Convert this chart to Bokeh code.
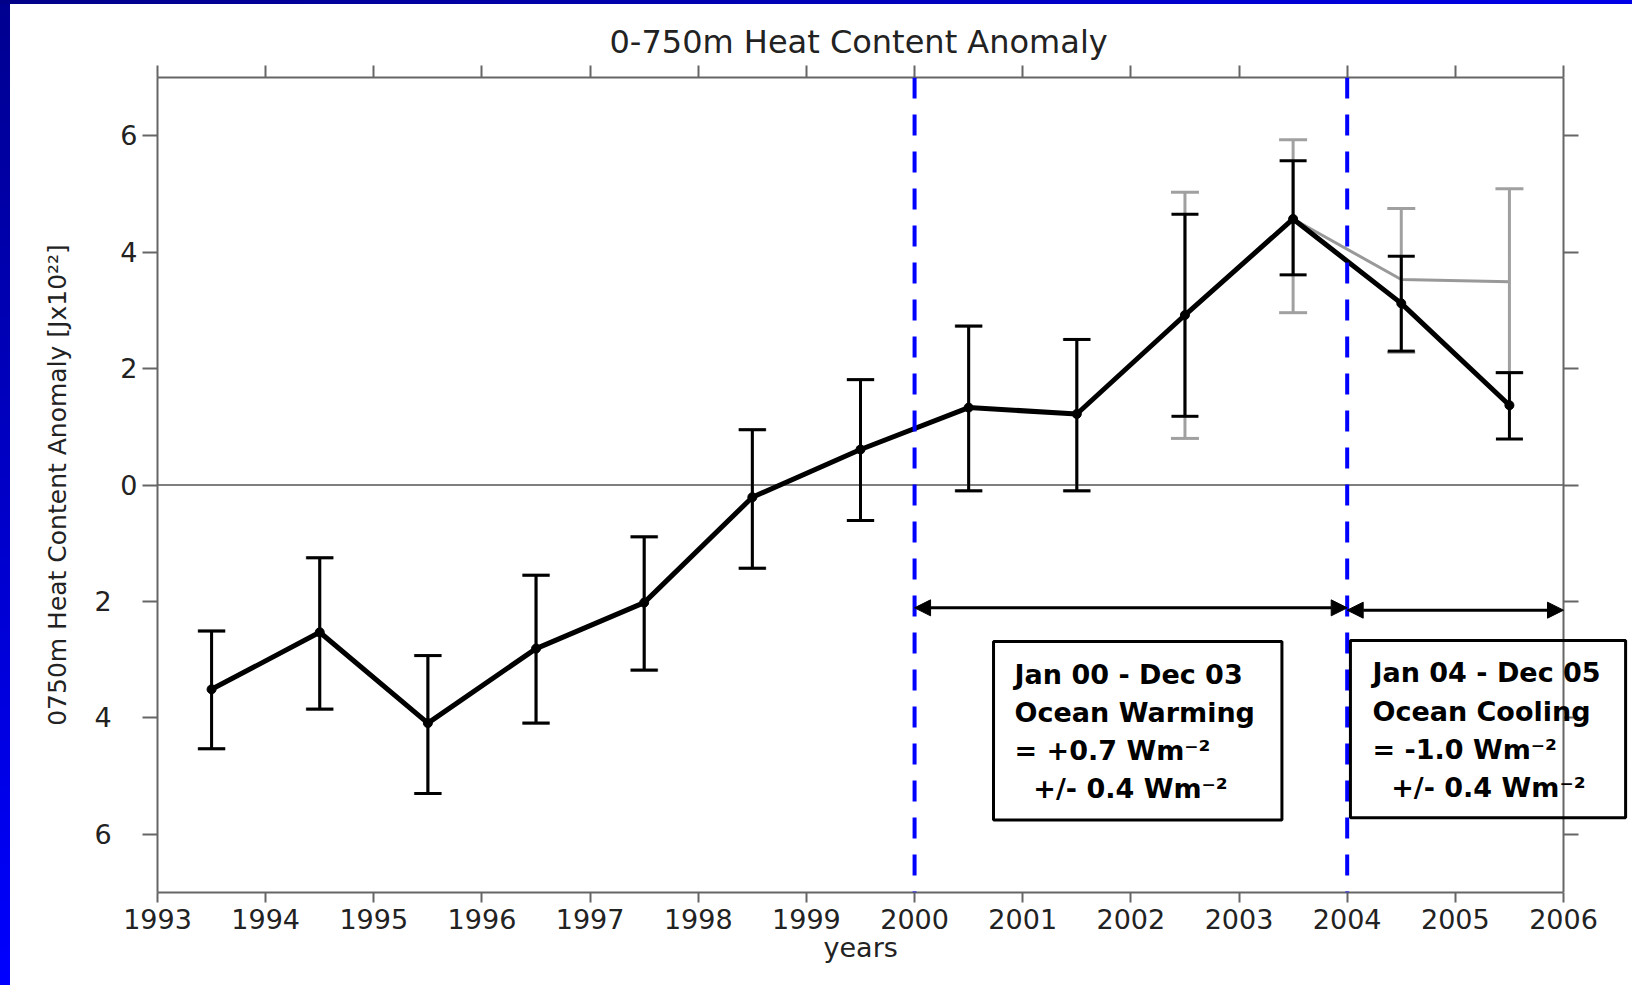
from bokeh.plotting import figure
from bokeh.models import (ColumnDataSource, Range1d, LinearAxis, FixedTicker, Span, Whisker,
                          TeeHead, Arrow, NormalHead, Label, Spacer)
from bokeh.layouts import row, column
from bokeh.embed import file_html
from bokeh.resources import INLINE

# Yearly 0-750 m heat content anomaly (10^22 J), plotted at mid-year
years = [1993.5, 1994.5, 1995.5, 1996.5, 1997.5, 1998.5, 1999.5,
         2000.5, 2001.5, 2002.5, 2003.5, 2004.5, 2005.5]
anomaly = [-3.51, -2.53, -4.09, -2.81, -2.02, -0.21, 0.61,
           1.33, 1.22, 2.92, 4.57, 3.12, 1.37]
anomaly_upper = [-2.51, -1.25, -2.93, -1.55, -0.89, 0.95, 1.81,
                 2.73, 2.50, 4.65, 5.57, 3.93, 1.93]
anomaly_lower = [-4.53, -3.85, -5.30, -4.09, -3.18, -1.43, -0.61,
                 -0.10, -0.10, 1.18, 3.61, 2.30, 0.79]

# Earlier estimate (grey), differing in the final years
prev_anomaly = [-3.51, -2.53, -4.09, -2.81, -2.02, -0.21, 0.61,
                1.33, 1.22, 2.92, 4.57, 3.53, 3.49]
prev_upper = [-2.51, -1.25, -2.93, -1.55, -0.89, 0.95, 1.81,
              2.73, 2.50, 5.03, 5.93, 4.75, 5.09]
prev_lower = [-4.53, -3.85, -5.30, -4.09, -3.18, -1.43, -0.61,
              -0.10, -0.10, 0.80, 2.96, 2.28, 1.93]

x_ticks = list(range(1993, 2007))
y_ticks = [-6, -4, -2, 0, 2, 4, 6]
# printed without minus signs; the blank space keeps their offset
y_tick_labels = ["6\u00a0\u00a0\u00a0", "4\u00a0\u00a0\u00a0", "2\u00a0\u00a0\u00a0",
                 "0", "2", "4", "6"]

period_bounds = [2000, 2004, 2006]
period_notes = [
    "Jan 00 - Dec 03\nOcean Warming\n= +0.7 Wm\u207b\u00b2\n\u00a0\u00a0+/- 0.4 Wm\u207b\u00b2",
    "Jan 04 - Dec 05\nOcean Cooling\n= -1.0 Wm\u207b\u00b2\n\u00a0\u00a0+/- 0.4 Wm\u207b\u00b2",
]

AXIS_GREY = "#666666"
TEXT = "#222222"
FONT = "DejaVu Sans"
X0, X1 = x_ticks[0], x_ticks[-1]

# the frame runs on past the last year so the right-hand note box is not cut off
p = figure(width=1622, height=981, x_range=Range1d(X0, X1 + 0.638), y_range=Range1d(-7, 7),
           output_backend="svg", toolbar_location=None,
           min_border_left=147, min_border_right=0, min_border_top=73, min_border_bottom=93,
           background_fill_color="white", border_fill_color="white",
           outline_line_color=None,
           title="0-750m Heat Content Anomaly")
p.grid.visible = False

p.title.text_font = FONT
p.title.text_font_size = "32px"
p.title.text_font_style = "normal"
p.title.text_color = TEXT
p.title.align = "left"
p.title.offset = 452

def style_axis(ax, tick_out, tick_in=0, show_labels=True):
    ax.axis_line_color = AXIS_GREY
    ax.axis_line_width = 2
    ax.major_tick_line_color = AXIS_GREY
    ax.major_tick_line_width = 2
    ax.major_tick_in = tick_in
    ax.major_tick_out = tick_out
    ax.minor_tick_line_color = None
    ax.major_label_text_font = FONT
    ax.major_label_text_color = TEXT
    if show_labels:
        ax.major_label_text_font_size = "27px"
    else:
        ax.major_label_text_font_size = "1px"
        ax.major_label_text_alpha = 0

xb = p.xaxis[0]
xb.ticker = FixedTicker(ticks=x_ticks)
xb.bounds = (X0, X1)
style_axis(xb, 10)
xb.major_label_standoff = 6
# trailing blanks centre the word under the bounded axis rather than the wider frame
xb.axis_label = "years" + "\u00a0" * 8
xb.axis_label_text_font = FONT
xb.axis_label_text_font_size = "27px"
xb.axis_label_text_font_style = "normal"
xb.axis_label_text_color = TEXT
xb.axis_label_standoff = 0

yl = p.yaxis[0]
yl.ticker = FixedTicker(ticks=y_ticks)
yl.major_label_overrides = {t: s for t, s in zip(y_ticks, y_tick_labels)}
style_axis(yl, 15)
yl.major_label_standoff = 5
yl.axis_label = "0750m Heat Content Anomaly [Jx10\u00b2\u00b2]"
yl.axis_label_text_font = FONT
yl.axis_label_text_font_size = "25px"
yl.axis_label_text_font_style = "normal"
yl.axis_label_text_color = TEXT
yl.axis_label_standoff = 20

xt = LinearAxis(ticker=FixedTicker(ticks=x_ticks), bounds=(X0, X1))
style_axis(xt, 12, show_labels=False)
p.add_layout(xt, "above")

# closing right-hand side of the box, ticks pointing outwards
yr = LinearAxis(ticker=FixedTicker(ticks=y_ticks), fixed_location=X1)
style_axis(yr, 0, tick_in=15, show_labels=False)
p.add_layout(yr, "left")

# zero line
p.segment(x0=X0, x1=X1, y0=0, y1=0, line_color="#555555", line_width=1.5, level="underlay")

prev_src = ColumnDataSource(dict(x=years, y=prev_anomaly, upper=prev_upper, lower=prev_lower))
src = ColumnDataSource(dict(x=years, y=anomaly, upper=anomaly_upper, lower=anomaly_lower))

GREY = "#a0a0a0"
p.add_layout(Whisker(source=prev_src, base="x", upper="upper", lower="lower",
                     line_color=GREY, line_width=3, level="underlay",
                     upper_head=TeeHead(size=28, line_color=GREY, line_width=3),
                     lower_head=TeeHead(size=28, line_color=GREY, line_width=3)))
p.line("x", "y", source=prev_src, line_color="#999999", line_width=3, level="underlay")

p.add_layout(Whisker(source=src, base="x", upper="upper", lower="lower",
                     line_color="black", line_width=3, level="underlay",
                     upper_head=TeeHead(size=27, line_color="black", line_width=3),
                     lower_head=TeeHead(size=27, line_color="black", line_width=3)))
p.line("x", "y", source=src, line_color="black", line_width=5)
p.scatter("x", "y", source=src, size=9, color="black")

# period boundaries
for b in period_bounds[:2]:
    p.add_layout(Span(location=b, dimension="height", line_color="#0000ff",
                      line_width=4, line_dash="21 16"))

# period arrows
arrow_y = [-2.11, -2.15]
for (a, b), yy in zip(zip(period_bounds[:-1], period_bounds[1:]), arrow_y):
    p.add_layout(Arrow(x_start=a, y_start=yy, x_end=b, y_end=yy,
                       line_color="black", line_width=3,
                       start=NormalHead(size=16, fill_color="black", line_color="black", line_width=1),
                       end=NormalHead(size=16, fill_color="black", line_color="black", line_width=1)))

# period notes (anchored at the box's top-left corner)
note_pos = [(2000.73, -2.69), (2004.03, -2.67)]
note_pad = [dict(left=21, right=27, top=17, bottom=16), dict(left=22, right=25, top=17, bottom=15)]
for (nx, ny), txt, pad in zip(note_pos, period_notes, note_pad):
    p.add_layout(Label(x=nx, y=ny, text=txt, text_font=FONT, text_font_size="27px",
                       text_font_style="bold", text_color="black",
                       text_align="left", text_baseline="top", text_line_height=1.23,
                       border_line_color="black", border_line_width=3,
                       background_fill_color=None, padding=pad))

top_strip = Spacer(width=1632, height=4,
                   styles={"background": "linear-gradient(to right, #000088, #0000e8)"})
left_strip = Spacer(width=10, height=981,
                    styles={"background": "linear-gradient(to bottom, #000090, #0000ff)"})
page = column(top_strip, row(left_strip, p))

open("out.html", "w").write(file_html(page, INLINE))
